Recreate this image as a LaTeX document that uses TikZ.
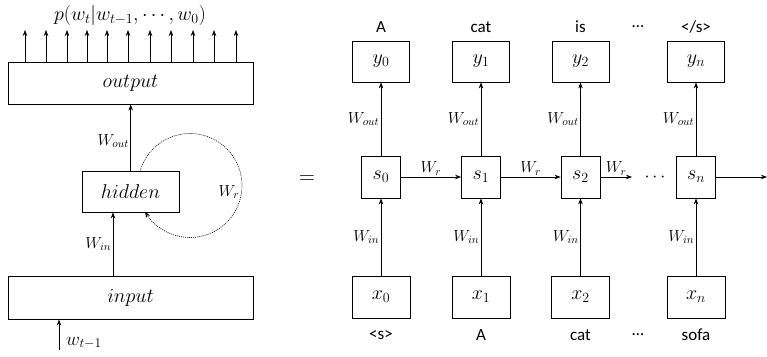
\RequirePackage{fix-cm}
\documentclass[tikz,border=0pt]{standalone}
\usepackage{fontspec}
\setmainfont{Carlito}
\usetikzlibrary{arrows.meta}
\begin{document}
\begin{tikzpicture}[x=1pt,y=-1pt,
  box/.style={draw, line width=0.8pt, inner sep=0pt, font=\fontsize{20}{22}\selectfont},
  arr/.style={line width=0.7pt, -{Stealth[length=6pt,width=4.5pt]}},
  wl/.style={font=\fontsize{16}{18}\selectfont, inner sep=1.5pt},
  word/.style={font=\fontsize{17}{19}\selectfont, inner sep=0pt},
  loopline/.style={line width=0.6pt, dash pattern=on 1pt off 1pt, -{Stealth[length=6pt,width=4.5pt]}}]
\useasboundingbox (0,0) rectangle (767,356);
% ---------- left part ----------
\node[font=\fontsize{20}{22}\selectfont, inner sep=0pt] (title) at (130,15) {$p(w_t|w_{t-1},\cdots,w_0)$};
\node[box, minimum width=245pt, minimum height=41.5pt] (out) at (130.5,83.3) {$output$};
\node[box, minimum width=97pt, minimum height=41pt] (hid) at (130.5,191.5) {$hidden$};
\node[box, minimum width=245pt, minimum height=42.5pt] (inp) at (130.5,297.8) {$input$};
\foreach \i/\xx in {1/25,2/46,3/67,4/87,5/107,6/128,7/150,8/171,9/193,10/214,11/236}{
  \coordinate (t\i) at (\xx,30);
  \draw[arr] (out.north -| t\i) -- (t\i);
}
\coordinate (hup) at (130.7,0);
\draw[arr] (hid.north -| hup) -- node[wl, left, pos=0.45] {$W_{out}$} (out.south -| hup);
\coordinate (iup) at (113,0);
\draw[arr] (inp.north -| iup) -- node[wl, left] {$W_{in}$} (hid.south -| iup);
\coordinate (wb) at (59,350);
\draw[arr] (wb) -- (wb |- inp.south);
\node[font=\fontsize{19}{21}\selectfont, inner sep=0pt, anchor=west] (wt) at (66,343) {$w_{t-1}$};
\coordinate (cc) at (190,185.5);
\draw[loopline] (cc) ++(196.7:52) arc[start angle=196.7, end angle=509.7, radius=52];
\node[wl] (wr) at (229,192) {$W_r$};
% ---------- equals ----------
\node[font=\fontsize{22}{24}\selectfont, inner sep=0pt] (eq) at (307,180) {$=$};
% ---------- right part ----------
\foreach \n/\cx/\top/\bot in {0/381/A/{<s>},1/481/cat/A,2/580.5/is/cat,n/696/{</s>}/sofa}{
  \node[box, minimum width=57pt, minimum height=41pt] (y\n) at (\cx,61.5) {$y_{\n}$};
  \node[box, minimum width=39pt, minimum height=42pt] (s\n) at (\cx,177) {$s_{\n}$};
  \node[box, minimum width=58pt, minimum height=42pt] (x\n) at (\cx,297) {$x_{\n}$};
  \node[word] (top\n) at (\cx,27) {\top};
  \node[word] (bot\n) at (\cx,335) {\bot};
  \draw[arr] (s\n) -- node[wl, left] {$W_{out}$} (y\n);
  \draw[arr] (x\n) -- node[wl, left] {$W_{in}$} (s\n);
}
\node[word] (topd) at (638,27) {…};
\node[word] (botd) at (638,335) {…};
\draw[arr] (s0) -- node[wl, above] {$W_r$} (s1);
\draw[arr] (s1) -- node[wl, above] {$W_r$} (s2);
\coordinate (dend) at (632,177);
\draw[arr] (s2) -- node[wl, above] {$W_r$} (dend);
\node[font=\fontsize{18}{20}\selectfont, inner sep=0pt] (dots) at (655,177) {$\cdots$};
\coordinate (rend) at (767,177);
\draw[arr] (sn) -- (rend);
\end{tikzpicture}
\end{document}
